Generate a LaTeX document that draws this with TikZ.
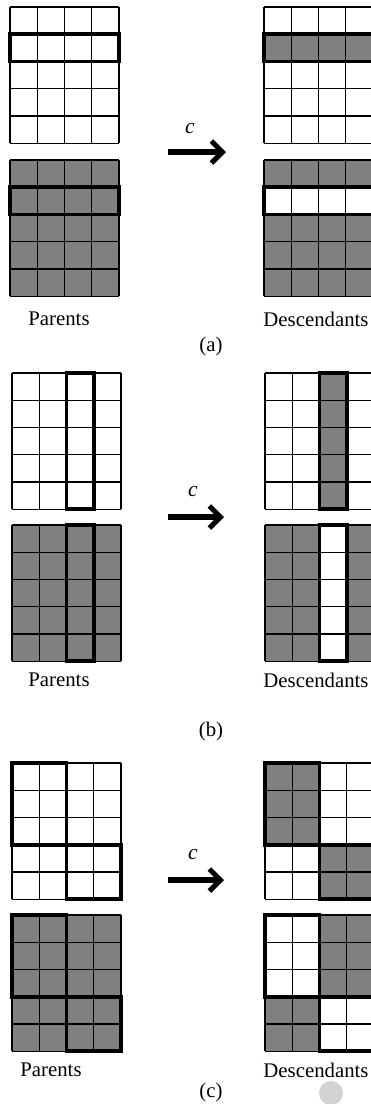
\documentclass[tikz,border=0pt]{standalone}
\usepackage{fontspec}
\setmainfont{Liberation Serif}
\usetikzlibrary{arrows.meta}
\definecolor{cellgray}{HTML}{808080}
\newcommand\cw{27.25}
\newcommand\cellgrid[2]{%
  \foreach \i in {0,...,4} \draw[gridline] (#1+\i*\cw,#2) -- (#1+\i*\cw,#2+5*\cw);
  \foreach \j in {0,...,5} \draw[gridline] (#1,#2+\j*\cw) -- (#1+4*\cw,#2+\j*\cw);
}
% fill block: x0,y0, col start, row start, ncols, nrows
\newcommand\blockfill[7]{\fill[#7] (#1+#3*\cw,#2+#4*\cw) rectangle (#1+#3*\cw+#5*\cw,#2+#4*\cw+#6*\cw);}
\newcommand\blockframe[6]{\draw[thickframe] (#1+#3*\cw,#2+#4*\cw) rectangle (#1+#3*\cw+#5*\cw,#2+#4*\cw+#6*\cw);}
\begin{document}
\begin{tikzpicture}[x=1pt,y=-1pt,
  gridline/.style={line width=1.4pt,black},
  thickframe/.style={line width=3.8pt,black},
  lbl/.style={font=\fontsize{20.8}{24}\selectfont,inner sep=0pt},
  clbl/.style={font=\fontsize{21.5}{24}\selectfont\itshape,inner sep=0pt},
  bigarrow/.style={line width=5.5pt,-{Straight Barb[length=11pt,width=22pt,line width=5pt]}}]
\useasboundingbox (0,0) rectangle (371,1104);
\clip (0,0) rectangle (371,1104);
\fill[white] (0,0) rectangle (371,1104);

% ===== (a) =====
% parents upper
\cellgrid{10}{7}
\blockframe{10}{7}{0}{1}{4}{1}
% parents lower
\blockfill{10}{160}{0}{0}{4}{5}{cellgray}
\cellgrid{10}{160}
\blockframe{10}{160}{0}{1}{4}{1}
% descendants upper
\blockfill{264}{7}{0}{1}{4}{1}{cellgray}
\cellgrid{264}{7}
\blockframe{264}{7}{0}{1}{4}{1}
% descendants lower
\blockfill{264}{160}{0}{0}{4}{5}{cellgray}
\blockfill{264}{160}{0}{1}{4}{1}{white}
\cellgrid{264}{160}
\blockframe{264}{160}{0}{1}{4}{1}

\coordinate (aS) at (168,152);
\coordinate (aE) at (226,152);
\draw[bigarrow] (aS) -- (aE);
\node[clbl] (ca) at (190,129) {c};
\node[lbl] (pa) at (59,319) {Parents};
\node[lbl] (da) at (316,319) {Descendants};
\node[lbl] (la) at (211,346) {(a)};

% ===== (b) =====
\cellgrid{12}{373}
\blockframe{12}{373}{2}{0}{1}{5}
\blockfill{12}{525}{0}{0}{4}{5}{cellgray}
\cellgrid{12}{525}
\blockframe{12}{525}{2}{0}{1}{5}
\blockfill{265}{373}{2}{0}{1}{5}{cellgray}
\cellgrid{265}{373}
\blockframe{265}{373}{2}{0}{1}{5}
\blockfill{265}{525}{0}{0}{4}{5}{cellgray}
\blockfill{265}{525}{2}{0}{1}{5}{white}
\cellgrid{265}{525}
\blockframe{265}{525}{2}{0}{1}{5}

\coordinate (bS) at (168,517);
\coordinate (bE) at (224,517);
\draw[bigarrow] (bS) -- (bE);
\node[clbl] (cb) at (193,492) {c};
\node[lbl] (pb) at (59,680) {Parents};
\node[lbl] (db) at (316,680) {Descendants};
\node[lbl] (lb) at (211,731) {(b)};

% ===== (c) =====
\cellgrid{12}{763}
\blockframe{12}{763}{0}{0}{2}{3}
\blockframe{12}{763}{2}{3}{2}{2}
\blockfill{12}{915}{0}{0}{4}{5}{cellgray}
\cellgrid{12}{915}
\blockframe{12}{915}{0}{0}{2}{3}
\blockframe{12}{915}{2}{3}{2}{2}
\blockfill{265}{763}{0}{0}{2}{3}{cellgray}
\blockfill{265}{763}{2}{3}{2}{2}{cellgray}
\cellgrid{265}{763}
\blockframe{265}{763}{0}{0}{2}{3}
\blockframe{265}{763}{2}{3}{2}{2}
\blockfill{265}{915}{2}{0}{2}{3}{cellgray}
\blockfill{265}{915}{0}{3}{2}{2}{cellgray}
\cellgrid{265}{915}
\blockframe{265}{915}{0}{0}{2}{3}
\blockframe{265}{915}{2}{3}{2}{2}

\coordinate (cS) at (168,880);
\coordinate (cE) at (224,880);
\draw[bigarrow] (cS) -- (cE);
\node[clbl] (cc) at (193,855) {c};
\node[lbl] (pc) at (51,1070) {Parents};
\node[lbl] (dc) at (316,1070) {Descendants};
\node[lbl] (lc) at (211,1092) {(c)};

\fill[gray!35] (331,1093) circle (12);
\end{tikzpicture}
\end{document}
